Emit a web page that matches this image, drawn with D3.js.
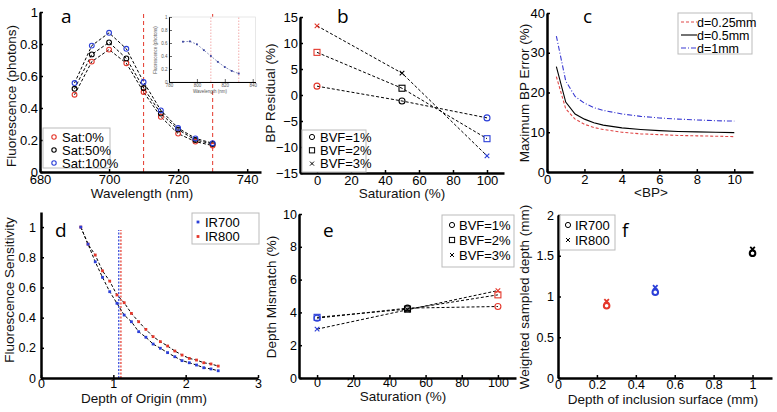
<!DOCTYPE html>
<html><head><meta charset="utf-8">
<script src="https://cdn.jsdelivr.net/npm/d3@7"></script>
<style>
body{margin:0;background:#fff;}
text{font-family:"Liberation Sans",Arial,Helvetica,sans-serif;}
</style></head><body>
<svg id="c" width="777" height="412" xmlns="http://www.w3.org/2000/svg"></svg>
<script>
// ---------- DATA ----------
// Panel a
const wavelengthA = [690, 695, 700, 705, 710, 715, 720, 725, 730];
const fluorSat0   = [0.483, 0.69, 0.765, 0.68, 0.50, 0.345, 0.24, 0.19, 0.165];
const fluorSat50  = [0.52, 0.735, 0.81, 0.71, 0.525, 0.365, 0.265, 0.20, 0.175];
const fluorSat100 = [0.556, 0.79, 0.87, 0.77, 0.5625, 0.385, 0.275, 0.21, 0.18];
const bandEdgesA  = [710, 730];
const xTicksA = [680, 700, 720, 740];
const yTicksA = [0, 0.2, 0.4, 0.6, 0.8, 1];
const legendA = ["Sat:0%", "Sat:50%", "Sat:100%"];
// Panel a inset
const wavelengthInset = [790, 795, 800, 805, 810, 815, 820, 825, 830];
const fluorInset      = [0.62, 0.625, 0.58, 0.49, 0.40, 0.31, 0.23, 0.17, 0.13];
const bandEdgesInset  = [810, 830];
const xTicksInset = [780, 800, 820, 840];
const yTicksInset = [0, 0.2, 0.4, 0.6, 0.8, 1];
// Panel b
const saturationB = [0, 50, 100];
const bpResBVF1 = [1.7, -1.15, -4.4];
const bpResBVF2 = [8.2, 1.3, -8.4];
const bpResBVF3 = [13.3, 4.2, -11.7];
const xTicksB = [0, 20, 40, 60, 80, 100];
const yTicksB = [-15, -10, -5, 0, 5, 10, 15];
const legendBE = ["BVF=1%", "BVF=2%", "BVF=3%"];
// Panel c
const meanBP = [0.5, 1, 1.5, 2, 2.5, 3, 4, 5, 6, 7, 8, 9, 10];
const errD025 = [24.0, 15.9, 13.3, 12.0, 11.2, 10.7, 10.0, 9.6, 9.4, 9.2, 9.1, 9.0, 8.9];
const errD05  = [26.5, 17.6, 14.6, 13.3, 12.4, 11.8, 11.1, 10.7, 10.4, 10.2, 10.1, 10.0, 9.9];
const errD1   = [34.2, 22.9, 19.0, 17.3, 16.2, 15.5, 14.6, 14.0, 13.6, 13.3, 13.1, 12.9, 12.8];
const xTicksC = [0, 2, 4, 6, 8, 10];
const yTicksC = [0, 10, 20, 30, 40];
const legendC = ["d=0.25mm", "d=0.5mm", "d=1mm"];
// Panel d
const depthD = [0.55, 0.65, 0.75, 0.85, 0.95, 1.05, 1.15, 1.25, 1.35, 1.45, 1.55, 1.65, 1.75, 1.85, 1.95, 2.05, 2.15, 2.25, 2.35, 2.45];
const sensIR700 = [1.0, 0.887, 0.77, 0.667, 0.572, 0.495, 0.417, 0.373, 0.307, 0.27, 0.225, 0.197, 0.168, 0.141, 0.115, 0.101, 0.086, 0.068, 0.06, 0.048];
const sensIR800 = [1.0, 0.887, 0.815, 0.71, 0.642, 0.55, 0.499, 0.428, 0.373, 0.322, 0.274, 0.241, 0.212, 0.179, 0.152, 0.13, 0.119, 0.101, 0.093, 0.079];
const meanDepthIR700 = 1.075;
const meanDepthIR800 = 1.105;
const xTicksD = [0, 1, 2, 3];
const yTicksD = [0, 0.2, 0.4, 0.6, 0.8, 1];
const legendDF = ["IR700", "IR800"];
// Panel e
const saturationE = [0, 50, 100];
const mismBVF1 = [3.65, 4.26, 4.36];
const mismBVF2 = [3.7, 4.2, 5.07];
const mismBVF3 = [2.98, 4.16, 5.33];
const xTicksE = [0, 20, 40, 60, 80, 100];
const yTicksE = [0, 2, 4, 6, 8, 10];
// Panel f
const inclusionDepth = [0.25, 0.5, 1];
const sampledIR700 = [0.886, 1.053, 1.53];
const sampledIR800 = [0.94, 1.11, 1.58];
const xTicksF = [0, 0.2, 0.4, 0.6, 0.8, 1];
const yTicksF = [0, 0.5, 1, 1.5, 2];

// ---------- HELPERS ----------
const RED = "#e4372b", BLUE = "#2b3fd8", BLK = "#000";
const svg = d3.select("#c");
svg.append("rect").attr("width", 777).attr("height", 412).attr("fill", "#fff");

function fmt(v){ return String(v).replace("-", "\u2212"); }

function axes(x, y, o) {
  const g = svg.append("g");
  const xa = d3.axisBottom(x).tickValues(o.xt).tickFormat(o.xf || fmt)
    .tickSizeInner(-3).tickSizeOuter(0).tickPadding(o.xpad ?? 3);
  const gx = g.append("g").attr("transform", `translate(0,${y.range()[0]})`).call(xa);
  const ya = d3.axisLeft(y).tickValues(o.yt).tickFormat(o.yf || fmt)
    .tickSizeInner(-3).tickSizeOuter(0).tickPadding(o.ypad ?? 3);
  const gy = g.append("g").attr("transform", `translate(${x.range()[0]},0)`).call(ya);
  [gx, gy].forEach(a => {
    a.select(".domain").attr("stroke", "#000").attr("stroke-width", o.sw ?? 2.5);
    a.selectAll(".tick line").attr("stroke", "#000").attr("stroke-width", o.tw ?? 1.5);
    a.selectAll("text").attr("font-size", o.fs ?? 13).attr("fill", o.tc ?? "#000")
      .attr("font-family", '"Liberation Sans",Arial,sans-serif');
  });
  return g;
}
function title(txt, x, y, rot, fs) {
  const t = svg.append("text").attr("text-anchor", "middle").attr("font-size", fs || 13.5)
    .attr("fill", "#111").text(txt);
  if (rot) t.attr("transform", `translate(${x},${y}) rotate(-90)`);
  else t.attr("x", x).attr("y", y);
  return t;
}
function letter(txt, x, y) {
  svg.append("text").attr("x", x).attr("y", y).attr("font-size", 19).attr("fill", "#000")
    .style("font-family", '"Open Sans","Liberation Sans",Arial,sans-serif').text(txt);
}
function marker(g, type, cx, cy, color, s, sw) {
  s = s || 3.2; sw = sw || 1;
  if (type === "circle") {
    g.append("circle").attr("cx", cx).attr("cy", cy).attr("r", s)
      .attr("fill", "none").attr("stroke", color).attr("stroke-width", sw);
  } else if (type === "square") {
    g.append("rect").attr("x", cx - s).attr("y", cy - s).attr("width", 2 * s).attr("height", 2 * s)
      .attr("fill", "none").attr("stroke", color).attr("stroke-width", sw);
  } else if (type === "x") {
    g.append("path").attr("d", `M${cx - s},${cy - s}L${cx + s},${cy + s}M${cx - s},${cy + s}L${cx + s},${cy - s}`)
      .attr("stroke", color).attr("stroke-width", sw).attr("fill", "none");
  } else if (type === "dot") {
    g.append("rect").attr("x", cx - s).attr("y", cy - s).attr("width", 2 * s).attr("height", 2 * s)
      .attr("fill", color);
  }
}
function legendBox(x0, y0, w, h) {
  const g = svg.append("g");
  g.append("rect").attr("x", x0).attr("y", y0).attr("width", w).attr("height", h)
    .attr("fill", "#fff").attr("stroke", "#bbb").attr("stroke-width", 1);
  return g;
}
function dashedLine(g, x, y, xs, ys, color, dash, w) {
  const pts = xs.map((v, i) => [x(v), y(ys[i])]);
  g.append("path").attr("d", d3.line()(pts)).attr("fill", "none")
    .attr("stroke", color).attr("stroke-width", w || 1).attr("stroke-dasharray", dash || "3,2");
}

// ---------- PANEL A ----------
{
  const x = d3.scaleLinear().domain([680, 744]).range([40, 261]);
  const y = d3.scaleLinear().domain([0, 1]).range([172, 12]);
  const g = svg.append("g");
  bandEdgesA.forEach(w => g.append("line").attr("x1", x(w)).attr("x2", x(w)).attr("y1", y(0)).attr("y2", y(1))
    .attr("stroke", RED).attr("stroke-width", 1).attr("stroke-dasharray", "4,3"));
  const series = [[fluorSat0, RED], [fluorSat50, BLK], [fluorSat100, BLUE]];
  series.forEach(([v]) => dashedLine(g, x, y, wavelengthA, v, "#000", "3,2", 1));
  series.forEach(([v, c]) => wavelengthA.forEach((w, i) => marker(g, "circle", x(w), y(v[i]), c, 2.4, 1.1)));
  const ax = axes(x, y, { xt: xTicksA, yt: yTicksA, ypad: 2, xpad: 3 });
  // lift the y "0" label slightly, as in the reference
  ax.selectAll("g").filter((d, i) => i === 1).selectAll(".tick text").filter(d => d === 0).attr("dy", "-0.1em");
  title("Fluorescence (photons)", 16, 96, true);
  title("Wavelength (nm)", 142, 198);
  letter("a", 61, 23);
  // legend
  const lg = legendBox(43, 128, 67, 40);
  legendA.forEach((t, i) => {
    const yy = 137 + i * 13;
    marker(lg, "circle", 54, yy, [RED, BLK, BLUE][i], 2.2, 1.1);
    lg.append("text").attr("x", 62).attr("y", yy + 4.5).attr("font-size", 13).text(t);
  });
  // inset
  const xi = d3.scaleLinear().domain([780, 842]).range([169, 255.5]);
  const yi = d3.scaleLinear().domain([0, 1]).range([82, 17]);
  const gi = svg.append("g");
  gi.append("rect").attr("x", 169).attr("y", 17).attr("width", 86.5).attr("height", 65)
    .attr("fill", "#fff").attr("stroke", "#ddd").attr("stroke-width", 0.7);
  bandEdgesInset.forEach(w => gi.append("line").attr("x1", xi(w)).attr("x2", xi(w)).attr("y1", yi(0)).attr("y2", yi(1))
    .attr("stroke", "#e88").attr("stroke-width", 0.7).attr("stroke-dasharray", "1.5,1.5"));
  dashedLine(gi, xi, yi, wavelengthInset, fluorInset, "#7078b0", "2,1.5", 0.8);
  wavelengthInset.forEach((w, i) => marker(gi, "dot", xi(w), yi(fluorInset[i]), "#3a44a0", 0.9));
  axes(xi, yi, { xt: xTicksInset, yt: yTicksInset, fs: 4.5, sw: 1, tw: 0.6, xpad: 1.5, ypad: 1.5,
    tc: "#555", yf: d => d });
  svg.append("text").attr("transform", "translate(157,50) rotate(-90)").attr("text-anchor", "middle")
    .attr("font-size", 4.5).attr("fill", "#555").text("Fluorescence (photons)");
  svg.append("text").attr("x", 210).attr("y", 93).attr("text-anchor", "middle")
    .attr("font-size", 4.5).attr("fill", "#555").text("Wavelength (nm)");
}

// ---------- PANEL B ----------
{
  const x = d3.scaleLinear().domain([-10, 110]).range([300, 504]);
  const y = d3.scaleLinear().domain([-15, 15]).range([173, 17]);
  const g = svg.append("g");
  const series = [[bpResBVF1, "circle"], [bpResBVF2, "square"], [bpResBVF3, "x"]];
  series.forEach(([v]) => dashedLine(g, x, y, saturationB, v, "#000", "3,2", 1));
  const cols = [RED, BLK, BLUE];
  series.forEach(([v, m]) => saturationB.forEach((s, i) => marker(g, m, x(s), y(v[i]), cols[i], m === "x" ? 2.3 : 3, 1.1)));
  axes(x, y, { xt: xTicksB, yt: yTicksB, ypad: 2, xpad: 3 });
  title("BP Residual (%)", 275, 93, true);
  title("Saturation (%)", 402, 198);
  letter("b", 337, 23);
  const lg = legendBox(302, 130, 64, 42);
  legendBE.forEach((t, i) => {
    const yy = 137 + i * 13.3;
    marker(lg, ["circle", "square", "x"][i], 312, yy, BLK, i === 2 ? 2 : 2.6, 1);
    lg.append("text").attr("x", 320).attr("y", yy + 4.5).attr("font-size", 13).text(t);
  });
}

// ---------- PANEL C ----------
{
  const x = d3.scaleLinear().domain([0, 11]).range([547, 753]);
  const y = d3.scaleLinear().domain([0, 40]).range([172, 13]);
  const g = svg.append("g");
  const series = [[errD025, "#e04848", "3,2"], [errD05, "#000", null], [errD1, "#3a3ad2", "5,2,1,2"]];
  series.forEach(([v, c, d]) => {
    const p = g.append("path").attr("d", d3.line()(meanBP.map((b, i) => [x(b), y(v[i])])))
      .attr("fill", "none").attr("stroke", c).attr("stroke-width", 1.1);
    if (d) p.attr("stroke-dasharray", d);
  });
  axes(x, y, { xt: xTicksC, yt: yTicksC, ypad: 2, xpad: 3 });
  title("Maximum BP Error (%)", 529, 93, true);
  title("<BP>", 651, 197);
  letter("c", 583, 23);
  const lg = legendBox(678, 13, 74, 41);
  legendC.forEach((t, i) => {
    const yy = 22 + i * 13;
    const l = lg.append("line").attr("x1", 681).attr("x2", 697).attr("y1", yy).attr("y2", yy)
      .attr("stroke", series[i][1]).attr("stroke-width", 1.1);
    if (series[i][2]) l.attr("stroke-dasharray", series[i][2]);
    lg.append("text").attr("x", 697).attr("y", yy + 4.5).attr("font-size", 12.5).text(t);
  });
}

// ---------- PANEL D ----------
{
  const x = d3.scaleLinear().domain([0, 3]).range([41, 258]);
  const y = d3.scaleLinear().domain([0, 1.1]).range([378, 212]);
  const g = svg.append("g");
  [[meanDepthIR700, BLUE], [meanDepthIR800, RED]].forEach(([d, c]) =>
    g.append("line").attr("x1", x(d)).attr("x2", x(d)).attr("y1", y(0)).attr("y2", y(0.98))
      .attr("stroke", c).attr("stroke-width", 1.2).attr("stroke-dasharray", "2,1.5"));
  dashedLine(g, x, y, depthD, sensIR700, "#000", "3,2", 1);
  dashedLine(g, x, y, depthD, sensIR800, "#000", "3,2", 1);
  depthD.forEach((d, i) => marker(g, "dot", x(d), y(sensIR800[i]), RED, 1.4));
  depthD.forEach((d, i) => marker(g, "dot", x(d), y(sensIR700[i]), BLUE, 1.4));
  axes(x, y, { xt: xTicksD, yt: yTicksD, ypad: 5, xpad: 1, fs: 12.5 });
  title("Depth of Origin (mm)", 144, 403);
  title("Fluorescence Sensitivity", 14, 290, true);
  letter("d", 55, 237);
  const lg = legendBox(192, 213, 67, 31);
  legendDF.forEach((t, i) => {
    const yy = 222 + i * 14.5;
    marker(lg, "dot", 198, yy, [BLUE, RED][i], 1.4);
    lg.append("text").attr("x", 205).attr("y", yy + 4.5).attr("font-size", 13).text(t);
  });
}

// ---------- PANEL E ----------
{
  const x = d3.scaleLinear().domain([-10, 110]).range([299, 516]);
  const y = d3.scaleLinear().domain([0, 10]).range([378, 214]);
  const g = svg.append("g");
  const series = [[mismBVF1, "circle"], [mismBVF2, "square"], [mismBVF3, "x"]];
  series.forEach(([v]) => dashedLine(g, x, y, saturationE, v, "#000", "3,2", 1));
  const cols = [BLUE, BLK, RED];
  series.forEach(([v, m]) => saturationE.forEach((s, i) => marker(g, m, x(s), y(v[i]), cols[i], m === "x" ? 2.3 : 3, 1.1)));
  axes(x, y, { xt: xTicksE, yt: yTicksE, ypad: 2, xpad: 0, fs: 12.5 });
  title("Saturation (%)", 403, 401);
  title("Depth Mismatch (%)", 276, 297, true);
  letter("e", 323, 237);
  const lg = legendBox(442, 215, 72, 52);
  legendBE.forEach((t, i) => {
    const yy = 225 + i * 15;
    marker(lg, ["circle", "square", "x"][i], 452, yy, BLK, i === 2 ? 2 : 2.6, 1);
    lg.append("text").attr("x", 459).attr("y", yy + 4.5).attr("font-size", 13).text(t);
  });
}

// ---------- PANEL F ----------
{
  const x = d3.scaleLinear().domain([0, 1.1]).range([558, 772]);
  const y = d3.scaleLinear().domain([0, 2]).range([378, 215]);
  const g = svg.append("g");
  const cols = [RED, BLUE, BLK];
  inclusionDepth.forEach((d, i) => {
    marker(g, "x", x(d), y(sampledIR800[i]), cols[i], 2.3, 1.8);
    marker(g, "circle", x(d), y(sampledIR700[i]), cols[i], 2.8, 2);
  });
  axes(x, y, { xt: xTicksF, yt: yTicksF, ypad: 4, xpad: 2, fs: 12.5 });
  title("Depth of inclusion surface (mm)", 663, 404);
  title("Weighted sampled depth (mm)", 529, 297, true);
  letter("f", 622, 237);
  const lg = legendBox(560, 215, 55, 35);
  legendDF.forEach((t, i) => {
    const yy = 225 + i * 15;
    marker(lg, ["circle", "x"][i], 568, yy, BLK, i === 1 ? 2 : 2.6, 1);
    lg.append("text").attr("x", 575).attr("y", yy + 4.5).attr("font-size", 13).text(t);
  });
}
</script>
</body></html>
